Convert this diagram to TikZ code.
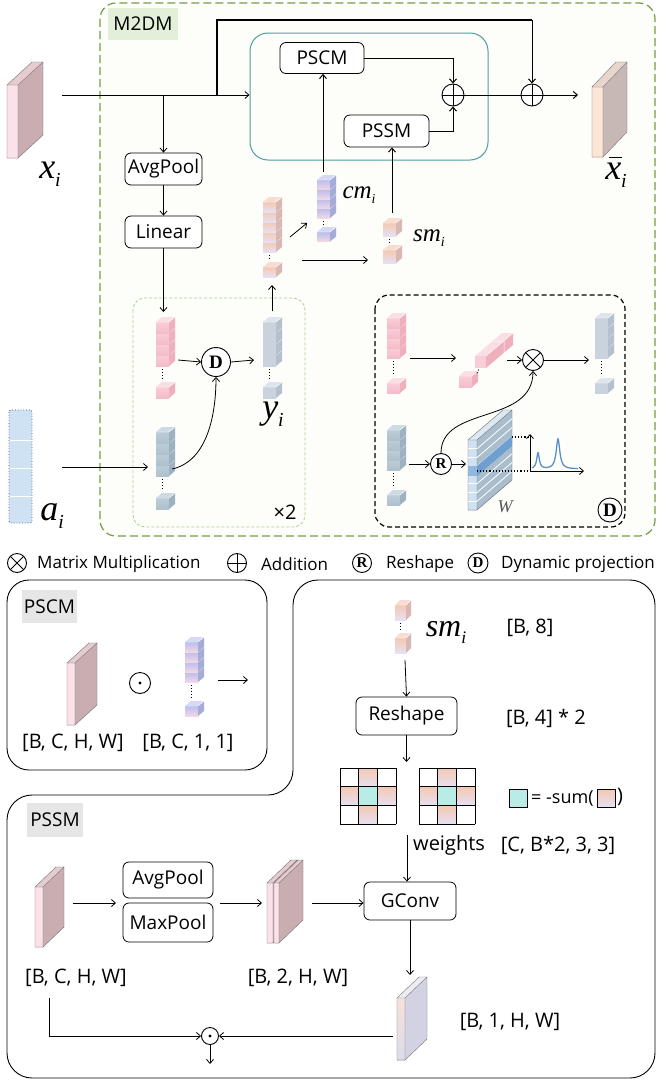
\documentclass[tikz,border=0pt]{standalone}
\usepackage{fontspec}
\setmainfont{Open Sans}
\newfontfamily\tnr{Liberation Serif}
\usetikzlibrary{arrows.meta,calc}
\definecolor{mgreen}{HTML}{6FA046}
\definecolor{mfill}{HTML}{FDFDF9}
\definecolor{lgreen}{HTML}{E2F0D9}
\definecolor{xgreen}{HTML}{A9D18E}
\definecolor{teal1}{HTML}{4E9E9E}
\definecolor{graylab}{HTML}{E6E6E6}
\definecolor{pinkA}{HTML}{F9CDD6}
\definecolor{pinkB}{HTML}{F4BCC8}
\definecolor{pinkS}{HTML}{EFB0BE}
\definecolor{pinkT}{HTML}{FBDDE4}
\definecolor{gbA}{HTML}{BCCDD9}
\definecolor{gbB}{HTML}{AFC1CE}
\definecolor{gbS}{HTML}{9DB1C0}
\definecolor{gbT}{HTML}{CCDAE4}
\definecolor{mixA}{HTML}{C9D2DD}
\definecolor{mixM}{HTML}{F0C7D0}
\definecolor{mixS}{HTML}{B5C0CD}
\definecolor{mixT}{HTML}{DEE4EC}
\definecolor{peach}{HTML}{F4C8B2}
\definecolor{lav}{HTML}{E6E0F3}
\definecolor{peachS}{HTML}{D9B7B3}
\definecolor{peachT}{HTML}{F8DCCF}
\definecolor{cmA}{HTML}{B8BEEE}
\definecolor{cmB}{HTML}{F3D7E4}
\definecolor{cmS}{HTML}{A6ACD8}
\definecolor{cmT}{HTML}{D5D9F5}
\definecolor{cyanc}{HTML}{B9ECE6}
\definecolor{wF}{HTML}{CFE1F2}
\definecolor{wS}{HTML}{A9BDCD}
\definecolor{wT}{HTML}{DCE8F2}
\definecolor{wD}{HTML}{6F9FD0}
\definecolor{plotc}{HTML}{5B8FC7}
\definecolor{aiF}{HTML}{CFE2F3}
\definecolor{aiB}{HTML}{3B4F8A}
\definecolor{pkF}{HTML}{FBE1E8}
\definecolor{pkS}{HTML}{C9ADB1}
\definecolor{pkT}{HTML}{E6CBD0}
\definecolor{xbF}{HTML}{FBE5D6}
\definecolor{xbS}{HTML}{C8B8B5}
\definecolor{xbT}{HTML}{E8D5CC}
\definecolor{outA}{HTML}{F6E1D9}
\definecolor{outB}{HTML}{DCDCEA}
\definecolor{outS}{HTML}{D2D2E2}
\definecolor{outT}{HTML}{ECECF4}
\newcommand{\bxf}{\fontsize{19}{21}\selectfont}
\newcommand{\lgf}{\fontsize{17}{19}\selectfont}
\newcommand{\dimf}{\fontsize{20}{22}\selectfont}
\newcommand{\Dfont}{\tnr\bfseries\fontsize{19}{20}\selectfont}
\newcommand{\Rfont}{\tnr\bfseries\fontsize{15}{16}\selectfont}
% italic label with subscript: size, base, sub
\newcommand{\mlab}[3]{{\tnr\itshape\fontsize{#1}{#1}\selectfont #2\raisebox{-0.22em}{\fontsize{0.55\dimexpr#1pt\relax}{1pt}\selectfont #3}}}
\newcommand{\cw}{13}
\newcommand{\cd}{6}
\newcommand{\cdy}{5}
% cube: x, y (front top-left), h, front shading, side, top
\newcommand{\cubeAt}[6]{%
  \shade[#4] (#1,#2) rectangle ++(\cw,#3);
  \fill[#5] (#1+\cw,#2) -- ++(\cd,-\cdy) -- ++(0,#3) -- ++(-\cd,\cdy) -- cycle;
  \fill[#6] (#1,#2) -- ++(\cw,0) -- ++(\cd,-\cdy) -- ++(-\cw,0) -- cycle;
  \draw[white,line width=0.4pt] (#1,#2) -- ++(\cw,0) -- ++(\cd,-\cdy);
}
% stack: x, y0, n, h, ylast, front, side, top
\newcommand{\vstack}[8]{%
  \cubeAt{#1}{#5}{#4}{#6}{#7}{#8}
  \draw[dotted, line width=1pt] (#1+\cw/2,#2+#3*#4+3) -- (#1+\cw/2,#5-\cdy-2);
  \foreach \k in {#3,...,1}{\cubeAt{#1}{#2+\k*#4-#4}{#4}{#6}{#7}{#8}}
}
% slab: x,y,w,h,dx,dy,front,side,top
\newcommand{\slab}[9]{%
  \shade[#7] (#1,#2) rectangle ++(#3,#4);
  \fill[#8] (#1+#3,#2) -- ++(#5,-#6) -- ++(0,#4) -- ++(-#5,#6) -- cycle;
  \fill[#9] (#1,#2) -- ++(#3,0) -- ++(#5,-#6) -- ++(-#3,0) -- cycle;
  \draw[draw=black!55, line width=0.4pt] (#1,#2) rectangle ++(#3,#4) (#1+#3,#2) -- ++(#5,-#6) -- ++(0,#4) -- ++(-#5,#6) (#1,#2) -- ++(#5,-#6) -- ++(#3,0);
}
\newcommand{\kgrid}[2]{%
  \foreach \i/\j in {1/0,0/1,2/1,1/2}{\shade[top color=peach,bottom color=lav] (#1+\i*18.7,#2+\j*18.7) rectangle ++(18.7,18.7);}
  \fill[cyanc] (#1+18.7,#2+18.7) rectangle ++(18.7,18.7);
  \foreach \k in {0,1,2,3}{\draw[line width=0.8pt] (#1+\k*18.7,#2) -- ++(0,56.1); \draw[line width=0.8pt] (#1,#2+\k*18.7) -- ++(56.1,0);}
}
\begin{document}
\begin{tikzpicture}[x=1pt,y=-1pt,
  arr/.style={-{Straight Barb[length=4pt,width=7pt]}, line width=0.8pt},
  box/.style={draw, rounded corners=6, fill=white, line width=0.8pt, font=\bxf, inner sep=0},
  circ/.style={draw, circle, inner sep=0, line width=0.9pt, fill=white},
  oplus/.style={circ, path picture={\draw[black, line width=0.9pt] (path picture bounding box.north) -- (path picture bounding box.south) (path picture bounding box.west) -- (path picture bounding box.east);}},
  otimes/.style={circ, path picture={\draw[black, line width=0.9pt] (path picture bounding box.north west) -- (path picture bounding box.south east) (path picture bounding box.south west) -- (path picture bounding box.north east);}},
  odot/.style={circ, path picture={\fill[black] (path picture bounding box.center) circle (1.7pt);}},
  txt/.style={inner sep=0, font=\dimf},
  lgt/.style={anchor=west, inner sep=0, font=\lgf},
]
\useasboundingbox (0,0) rectangle (659,1082);
\fill[white] (0,0) rectangle (659,1082);

% ===== M2DM =====
\draw[mgreen, dash pattern=on 8pt off 4pt, line width=1.2pt, rounded corners=16, fill=mfill] (100,3) rectangle (655,536);
\node[fill=lgreen, minimum width=70, minimum height=32, inner sep=0, font=\bxf] (m2dmlab) at (143,24) {M2DM};
\node[draw=teal1, line width=1pt, rounded corners=18, minimum width=238, minimum height=127, inner sep=0] (teal) at (369,96.5) {};
\draw[xgreen, line width=0.8pt, rounded corners=12, dash pattern=on 3pt off 2pt] (133,298) rectangle (305,527);
\node[font=\dimf, inner sep=0] (x2) at (285,512) {×2};
\draw[black, line width=1.2pt, dash pattern=on 5pt off 3pt, rounded corners=14] (375,295) rectangle (625,527);

% input / output slabs
\slab{7}{85}{11}{73}{25}{23}{top color=pkF,bottom color=pkF}{pkS}{pkT}
\slab{592}{87}{11}{70}{24}{25}{top color=xbF,bottom color=xbF}{xbS}{xbT}
\node[inner sep=0] (xi) at (50,174) {\mlab{36}{x}{i}};
\node[inner sep=0] (xbar) at (616,172) {\mlab{36}{\rlap{\kern0.1em\raisebox{0.6em}{\rule{0.36em}{1.4pt}}}x}{i}};

% a_i bar
\fill[aiF] (9,410) rectangle (32,523);
\draw[white, line width=1pt] (9,440) -- (32,440) (9,468) -- (32,468) (9,496) -- (32,496);
\draw[aiB, dotted, line width=0.8pt, rounded corners=2] (9,410) rectangle (32,523);
\node[inner sep=0] (ai) at (52,516) {\mlab{36}{a}{i}};

% boxes
\node[box, minimum width=77, minimum height=32] (avg1) at (163.5,169) {AvgPool};
\node[box, minimum width=77, minimum height=32] (lin) at (163.5,232) {Linear};
\node[box, minimum width=84, minimum height=31] (pscm) at (322,58) {PSCM};
\node[box, minimum width=85, minimum height=32] (pssm) at (386.5,131) {PSSM};
\node[oplus, minimum size=22] (plus1) at (453,95) {};
\node[oplus, minimum size=22] (plus2) at (532,95) {};
\node[circ, minimum size=29, font=\Dfont] (dproj) at (216,362) {D};

% stacks
\vstack{156}{322}{4}{11}{387}{top color=pinkA,bottom color=pinkB}{pinkS}{pinkT}
\vstack{156}{432}{4}{11}{498}{top color=gbA,bottom color=gbB}{gbS}{gbT}
\vstack{263}{322}{4}{11}{387}{top color=mixA,middle color=mixM,bottom color=mixA}{mixS}{mixT}
\vstack{263}{202}{5}{10}{267}{top color=peach,bottom color=lav}{peachS}{peachT}
\vstack{317}{180}{4}{9.5}{232}{top color=cmA,bottom color=cmB}{cmS}{cmT}
\vstack{383}{223}{1}{13}{250}{top color=peach,bottom color=lav}{peachS}{peachT}
\node[inner sep=0] (yi) at (273,414) {\mlab{36}{y}{i}};
\node[inner sep=0] (cmi) at (359,195) {\mlab{25}{cm}{i}};
\node[inner sep=0] (smi) at (429,238) {\mlab{25}{sm}{i}};

% connectors M2DM
\coordinate (xiout) at (62,95);
\draw[arr] (xiout) -- (xiout -| teal.west);
\draw[arr] (xiout -| avg1.north) -- (avg1.north);
\coordinate (skip) at (217,95);
\coordinate (skiptop) at (532,20);
\draw[line width=1.6pt] (skip) |- (skiptop);
\draw[arr, line width=1pt] (skiptop) -- (plus2.north);
\draw[arr] (avg1.south) -- (lin.north);
\coordinate (p1top) at (163.5,312);
\draw[arr] (lin.south) -- (p1top);
\coordinate (p1r) at (178,360);
\draw[arr] (p1r) -- (dproj.west);
\coordinate (y1l) at (254,360);
\draw[arr] (dproj.east) -- (y1l);
\coordinate (y1top) at (272,311);
\coordinate (tbot) at (272,285);
\draw[arr] (y1top) -- (tbot);
\coordinate (aiout) at (62,467);
\coordinate (g1l) at (148,467);
\draw[arr] (aiout) -- (g1l);
\coordinate (g1r) at (172,469);
\draw[arr] (g1r) .. controls (205,462) and (216,420) .. (dproj.south);
\coordinate (t1) at (290,237); \coordinate (t2) at (307,223);
\draw[arr] (t1) -- (t2);
\coordinate (t3) at (302,260); \coordinate (t4) at (368,260);
\draw[arr] (t3) -- (t4);
\coordinate (cmtop) at (323,172);
\draw[arr, line width=1pt] (cmtop) -- (cmtop |- pscm.south);
\coordinate (smtop) at (392,213);
\draw[arr, line width=1pt] (smtop) -- (smtop |- pssm.south);
\draw[arr, line width=1pt] (pscm.east) -| (plus1.north);
\draw[arr, line width=1pt] (pssm.east) -| (plus1.south);
\draw[line width=1pt] (plus1.east) -- (plus2.west);
\coordinate (outarr) at (578,95);
\draw[arr, line width=1pt] (plus2.east) -- (outarr);

% ===== D detail =====
\vstack{387}{318}{4}{10}{383}{top color=pinkA,bottom color=pinkB}{pinkS}{pinkT}
\vstack{595}{318}{4}{10}{383}{top color=mixA,middle color=mixM,bottom color=mixA}{mixS}{mixT}
\vstack{387}{430}{4}{10}{495}{top color=gbA,bottom color=gbB}{gbS}{gbT}
\cubeAt{459}{376}{11}{top color=pinkA,bottom color=pinkB}{pinkS}{pinkT}
\draw[dotted, line width=0.9pt] (477,373) -- (480,367);
\fill[pinkT] (475,356) -- (486,356) -- (513,333) -- (502,333) -- cycle;
\fill[pinkS] (486,356) -- (513,333) -- (513,345) -- (486,368) -- cycle;
\fill[pinkA] (475,356) rectangle (486,368);
\draw[white, line width=0.5pt] (486,356) -- (513,333) (504,341) -- (504,353) (493,341) -- (504,341);
\node[otimes, minimum size=21] (otim) at (533,360) {};
\node[circ, minimum size=21, font=\Rfont] (rsh) at (441,464) {R};
\node[circ, minimum size=24, font=\Dfont] (dcorner) at (610,510) {D};
\coordinate (d1) at (410,358); \coordinate (d2) at (456,358);
\draw[arr] (d1) -- (d2);
\coordinate (d3) at (507,360);
\draw[arr] (d3) -- (otim.west);
\coordinate (d4) at (589,360);
\draw[arr] (otim.east) -- (d4);
\coordinate (d5) at (409,464);
\draw[arr] (d5) -- (rsh.west);
\coordinate (d6) at (466,464);
\draw[arr] (rsh.east) -- (d6);
\draw[arr] (rsh.north) .. controls (441,405) and (533,425) .. (otim.south);
% W slab
\slab{468}{440}{9}{70}{35}{30}{top color=wF,bottom color=wF}{wS}{wT}
\foreach \k in {1,...,7}{\draw[white, line width=0.8pt] (477,440+\k*8.75) -- (512,410+\k*8.75); \draw[white, line width=0.6pt] (468,440+\k*8.75) -- (477,440+\k*8.75);}
\fill[wD] (477,466) -- (512,436) -- (512,446) -- (477,476) -- cycle;
\fill[wD!75!white] (468,466) rectangle (477,476);
\node[font=\tnr\itshape\fontsize{18}{18}\selectfont, text=black!65, inner sep=0] (wlab) at (505,507) {W};
\coordinate (ax0) at (530,471);
\coordinate (axtop) at (530,434);
\coordinate (axr) at (584,471);
\coordinate (dt1) at (512,437);
\coordinate (dt2) at (477,471);
\draw[dotted, line width=1.1pt] (dt1) -- (ax0 |- dt1);
\draw[dotted, line width=1.1pt] (dt2) -- (ax0);
\draw[arr] (ax0) -- (axtop);
\draw[arr] (ax0) -- (axr);
\draw[plotc, line width=1.3pt] plot[domain=532:578, samples=120, smooth] (\x,{469 - 16/(1+((\x-538)/1.6)^2) - 30/(1+((\x-558)/2.2)^2)});

% ===== legend =====
\node[otimes, minimum size=19] (lg1) at (17,563) {};
\node[lgt] (lg1t) at (37,564) {Matrix Multiplication};
\node[oplus, minimum size=19] (lg2) at (237,563) {};
\node[lgt] (lg2t) at (261,564) {Addition};
\node[circ, minimum size=19, font=\Rfont] (lg3) at (362,563) {R};
\node[lgt] (lg3t) at (386,564) {Reshape};
\node[circ, minimum size=20, font=\Rfont] (lg4) at (478,563) {D};
\node[lgt] (lg4t) at (501,564) {Dynamic projection};

% ===== PSCM panel =====
\draw[line width=0.9pt, rounded corners=22] (7,580) rectangle (267,770);
\node[fill=graylab, minimum width=55, minimum height=33, inner sep=0, font=\bxf] (pscmlab) at (49.5,606.5) {PSCM};
\slab{67}{663}{8}{62}{22}{20}{top color=pkF,bottom color=pkF}{pkS}{pkT}
\node[odot, minimum size=21] (odot1) at (140,683) {};
\vstack{185}{642}{4}{10}{706}{top color=cmA,bottom color=cmB}{cmS}{cmT}
\coordinate (pa1) at (218,680); \coordinate (pa2) at (248,680);
\draw[arr] (pa1) -- (pa2);
\node[txt] (pscmd1) at (73,743) {[B, C, H, W]};
\node[txt] (pscmd2) at (188,743) {[B, C, 1, 1]};

% ===== right + PSSM outline =====
\draw[line width=0.9pt, rounded corners=25] (150,795) -- (293,795) -- (293,580) -- (655,580) -- (655,1078) -- (7,1078) -- (7,795) -- cycle;

% right panel content
\renewcommand{\cw}{11}\renewcommand{\cd}{5}
\vstack{395}{605}{1}{15}{638}{top color=peach,bottom color=lav}{peachS}{peachT}
\renewcommand{\cw}{13}\renewcommand{\cd}{6}
\node[inner sep=0] (smi2) at (446,632) {\mlab{32}{sm}{i}};
\node[txt] (b8) at (530,628) {[B, 8]};
\coordinate (r1) at (405,660);
\node[box, minimum width=101, minimum height=38] (reshape) at (406.5,716) {Reshape};
\draw[arr] (r1) -- (reshape.north);
\coordinate (r2) at (406.5,762);
\draw[arr] (reshape.south) -- (r2);
\node[txt] (b42) at (546,718) {[B, 4] * 2};
\kgrid{340}{768}
\kgrid{419}{768}
\node[draw, line width=0.8pt, fill=cyanc, minimum size=18, inner sep=0] (sqc) at (518,798) {};
\node[lgt, font=\fontsize{18}{20}\selectfont] (sumt) at (531,798) {= -sum(};
\shade[top color=peach, bottom color=lav] (597,789) rectangle (615,807);
\node[draw, line width=0.8pt, minimum size=18, inner sep=0] (sqp) at (606,798) {};
\node[txt] (paren) at (620,797) {)};
\node[box, minimum width=92, minimum height=38] (gconv) at (410,901) {GConv};
\coordinate (w1) at (407,835);
\draw[arr] (w1) -- (w1 |- gconv.north);
\node[txt, anchor=west] (wts) at (413,845) {weights};
\node[txt] (cb2) at (558,845) {[C, B*2, 3, 3]};

% PSSM content
\node[fill=graylab, minimum width=56, minimum height=34, inner sep=0, font=\bxf] (pssmlab) at (55,820) {PSSM};
\slab{35}{887}{8}{60}{21}{20}{top color=pkF,bottom color=pkF}{pkS}{pkT}
\node[box, minimum width=90, minimum height=36] (avg2) at (168,880) {AvgPool};
\node[box, minimum width=90, minimum height=39] (maxp) at (168,922.5) {MaxPool};
\coordinate (q1) at (73,903); \coordinate (q2) at (116,903);
\draw[arr] (q1) -- (q2);
\coordinate (q3) at (220,903); \coordinate (q4) at (262,903);
\draw[arr] (q3) -- (q4);
\slab{267}{883}{6}{60}{24}{23}{top color=pkF,bottom color=pkF}{pkS}{pkT}
\slab{274}{883}{5}{60}{24}{23}{top color=pkF,bottom color=pkF}{pkS}{pkT}
\coordinate (q5) at (312,903);
\draw[arr] (q5) -- (q5 -| gconv.west);
\node[txt] (bchw) at (76,978) {[B, C, H, W]};
\node[txt] (b2hw) at (298,978) {[B, 2, H, W]};
\coordinate (g2) at (410,975);
\draw[arr] (gconv.south) -- (g2);
\slab{397}{998}{8}{62}{22}{21}{top color=outA,bottom color=outB}{outS}{outT}
\node[txt] (b1hw) at (510,1022) {[B, 1, H, W]};
\node[odot, minimum size=17] (odot2) at (210,1036) {};
\coordinate (sk1) at (49,998);
\draw[arr] (sk1) |- (odot2.west);
\coordinate (sk2) at (393,1036);
\draw[arr] (sk2) -- (odot2.east);
\coordinate (dn) at (210,1064);
\draw[arr] (odot2.south) -- (dn);
\end{tikzpicture}
\end{document}
